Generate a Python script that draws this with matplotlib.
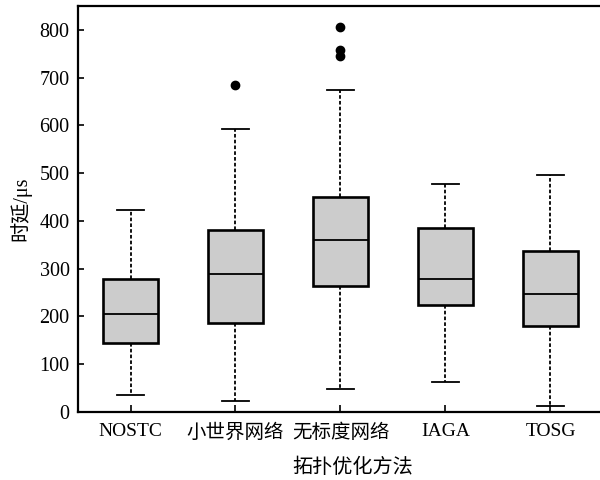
import matplotlib
matplotlib.use("Agg")
import matplotlib.pyplot as plt

plt.rcParams['font.family'] = ['Liberation Serif', 'Noto Sans CJK SC']
plt.rcParams['axes.unicode_minus'] = False

# box statistics
methods = ["NOSTC", "小世界网络", "无标度网络", "IAGA", "TOSG"]
whislo = [36, 24, 49, 62, 12]
q1 = [145, 187, 263, 225, 181]
med = [205, 288, 360, 278, 247]
q3 = [279, 381, 451, 385, 338]
whishi = [423, 592, 674, 477, 496]
fliers = [[], [685], [805, 758, 745], [], []]

stats = []
for i in range(len(methods)):
    stats.append({"label": methods[i], "whislo": whislo[i], "q1": q1[i],
                  "med": med[i], "q3": q3[i], "whishi": whishi[i],
                  "fliers": fliers[i]})

fig = plt.figure(figsize=(6, 4.8), dpi=100)
ax = fig.add_axes([78 / 600, 1 - 412 / 480, 525 / 600, 406 / 480])

ax.bxp(stats, widths=0.52, patch_artist=True,
       boxprops=dict(facecolor='#cccccc', edgecolor='black', linewidth=1.9),
       medianprops=dict(color='black', linewidth=1.3),
       whiskerprops=dict(color='black', linewidth=1.3, linestyle=(0, (2.0, 1.2))),
       capprops=dict(color='black', linewidth=1.3),
       capwidths=0.26,
       flierprops=dict(marker='o', markerfacecolor='black', markeredgecolor='black',
                       markersize=6))

ax.set_xlim(0.5, 5.5)
ax.set_ylim(0, 850)
ax.set_yticks([0, 100, 200, 300, 400, 500, 600, 700, 800])

for s in ax.spines.values():
    s.set_linewidth(1.6)
ax.spines['right'].set_visible(False)

ax.tick_params(axis='y', direction='in', length=4, width=1.2, labelsize=14.5, pad=6,
               right=False)
ax.tick_params(axis='x', direction='in', length=5, width=1.2, labelsize=14, pad=8,
               top=False)

ax.set_ylabel("时延/μs", fontsize=14.5)
ax.yaxis.set_label_coords(-0.088, 0.5)
ax.set_xlabel("拓扑优化方法", fontsize=14.5)
ax.xaxis.set_label_coords(0.524, -0.115)

fig.savefig("out.png", dpi=100)
